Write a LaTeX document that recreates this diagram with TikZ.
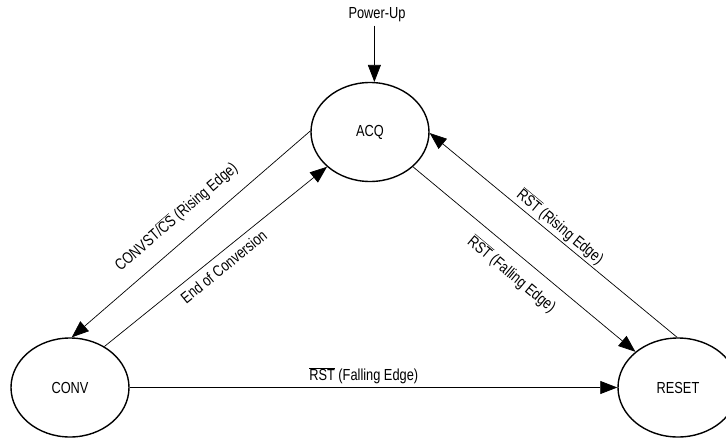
\documentclass[tikz,border=0pt]{standalone}
\usepackage{fontspec}
\setmainfont{Liberation Sans}[FakeStretch=0.8]
\usetikzlibrary{arrows.meta, positioning, shapes.geometric}

\begin{document}
\begin{tikzpicture}[
    x=1pt, y=-1pt,
    >={Triangle[length=17pt, width=13pt]},
    state/.style={draw, ellipse, line width=1.4pt, inner sep=0pt},
    trans/.style={->, line width=0.7pt},
    lbl/.style={inner sep=2pt},
    every node/.append style={font=\fontsize{16}{19}\selectfont}
]
    \useasboundingbox (0,0) rectangle (726,439);

    % Stati
    \node[state, minimum width=118pt, minimum height=99pt] (acq) at (370,132) {ACQ};
    \node[state, minimum width=118pt, minimum height=99pt] (conv) at (70,387.5) {CONV};
    \node[state, minimum width=120pt, minimum height=99pt] (reset) at (678,387.5) {RESET};

    % Accensione
    \node (pwr) at (377,15) {Power-Up};
    \draw[trans] (pwr.south -| acq.85) -- (acq.85);

    % Transizioni
    \draw[trans] (acq.179) -- (conv.88)
        node[lbl, midway, sloped, above=12pt] {CONVST/$\overline{\mbox{CS}}$ (Rising Edge)};
    \draw[trans] (conv.50) -- (acq.219)
        node[lbl, midway, sloped, below=4.5pt] {End of Conversion};
    \draw[trans] (acq.321) -- (reset.140)
        node[lbl, midway, sloped, below=9pt] {$\overline{\mbox{RST}}$ (Falling Edge)};
    \draw[trans] (reset.91) -- (acq.359)
        node[lbl, midway, sloped, above=0pt] {$\overline{\mbox{RST}}$ (Rising Edge)};
    \draw[trans] (conv.east) -- (reset.west)
        node[lbl, pos=0.48, above=1.5pt] {$\overline{\mbox{RST}}$ (Falling Edge)};

\end{tikzpicture}
\end{document}
